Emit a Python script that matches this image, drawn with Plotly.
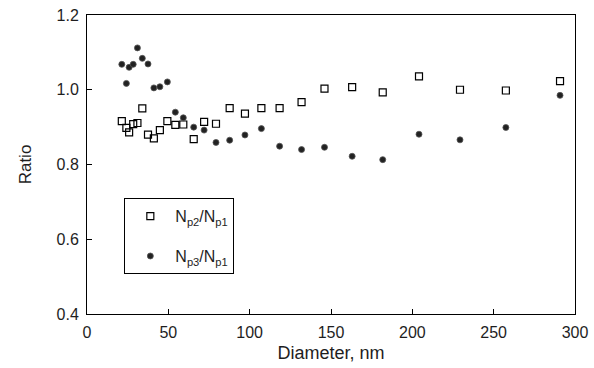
import plotly.graph_objects as go

diameter = [21.4, 24.2, 25.9, 28.4, 31.0, 34.0, 37.5, 41.1, 44.8, 49.4, 54.3, 59.2, 65.6,
            72.0, 79.3, 87.7, 97.1, 107.2, 118.4, 131.9, 146.0, 163.0, 181.8, 204.1,
            229.3, 257.5, 290.8]
ratio_p2_p1 = [0.916, 0.898, 0.886, 0.908, 0.911, 0.950, 0.880, 0.870, 0.892, 0.916, 0.906,
               0.907, 0.868, 0.914, 0.909, 0.951, 0.936, 0.951, 0.951, 0.967, 1.003, 1.007,
               0.993, 1.036, 1.000, 0.998, 1.023]
ratio_p3_p1 = [1.068, 1.017, 1.060, 1.068, 1.112, 1.084, 1.069, 1.005, 1.008, 1.021, 0.940,
               0.925, 0.900, 0.892, 0.859, 0.865, 0.879, 0.896, 0.849, 0.840, 0.846, 0.822,
               0.813, 0.881, 0.866, 0.899, 0.985]

x_ticks = [0, 50, 100, 150, 200, 250, 300]
y_ticks = [0.4, 0.6, 0.8, 1.0, 1.2]

FONT = "Liberation Sans, Arial, sans-serif"
INK = "#1e1e1e"

fig = go.Figure()
fig.add_trace(go.Scatter(
    x=diameter, y=ratio_p2_p1, mode="markers",
    name="N<sub>p2</sub>/N<sub>p1</sub>", legendgroup="a",
    marker=dict(symbol="square-open", size=7, color="black", line=dict(width=1.2, color="black")),
))
fig.add_trace(go.Scatter(
    x=diameter, y=ratio_p3_p1, mode="markers",
    name="N<sub>p3</sub>/N<sub>p1</sub>", legendgroup="b",
    marker=dict(symbol="circle", size=6, color="#222222", line=dict(width=0.8, color="#555555")),
))

axis_common = dict(
    showline=True, linecolor="black", linewidth=1, mirror=True,
    ticks="inside", ticklen=5, tickcolor="black", tickwidth=1,
    showgrid=False, zeroline=False, automargin=False,
    tickfont=dict(family=FONT, size=16, color=INK),
)

fig.update_layout(
    width=594, height=368,
    margin=dict(l=87, r=19, t=15, b=54),
    paper_bgcolor="white", plot_bgcolor="white",
    font=dict(family=FONT, size=16, color=INK),
    showlegend=True,
    legend=dict(
        x=0.0765, y=0.387, xanchor="left", yanchor="top",
        bordercolor="black", borderwidth=1, bgcolor="white",
        font=dict(family=FONT, size=16, color=INK),
        tracegroupgap=16, traceorder="grouped", itemwidth=40,
    ),
    xaxis=dict(range=[0, 300], tickvals=x_ticks, ticklabelstandoff=4,
               title=dict(text="Diameter, nm", font=dict(family=FONT, size=18, color=INK), standoff=6),
               **axis_common),
    yaxis=dict(range=[0.4, 1.2], tickvals=y_ticks, tickformat=".1f", ticklabelstandoff=4,
               title=dict(text="Ratio", font=dict(family=FONT, size=17, color=INK), standoff=20),
               **axis_common),
)

fig.write_html("out.html")
